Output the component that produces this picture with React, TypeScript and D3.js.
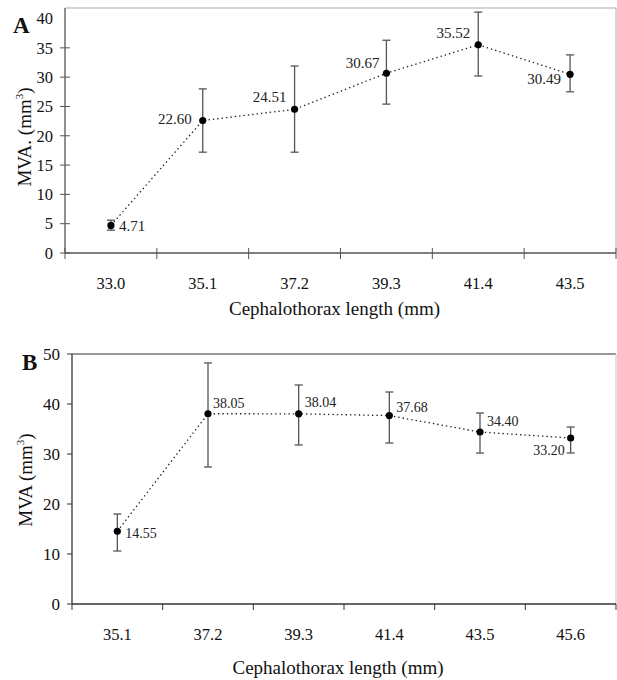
import React from 'react';
import * as d3 from 'd3';

// Panel A
const catsA = ['33.0', '35.1', '37.2', '39.3', '41.4', '43.5'];
const meanA = [4.71, 22.6, 24.51, 30.67, 35.52, 30.49];
const lowA = [3.9, 17.2, 17.2, 25.4, 30.2, 27.5];
const highA = [5.6, 28.0, 31.9, 36.3, 41.1, 33.8];
const ticksA = [0, 5, 10, 15, 20, 25, 30, 35, 40];

// Panel B
const catsB = ['35.1', '37.2', '39.3', '41.4', '43.5', '45.6'];
const meanB = [14.55, 38.05, 38.04, 37.68, 34.4, 33.2];
const lowB = [10.6, 27.4, 31.8, 32.2, 30.2, 30.2];
const highB = [18.0, 48.2, 43.8, 42.4, 38.2, 35.4];
const ticksB = [0, 10, 20, 30, 40, 50];

// label placement: [anchor, dx, dy]
const placeA: [string, number, number][] = [
  ['start', 8, 0], ['end', -11, -2], ['end', -8, -13],
  ['end', -7, -10], ['end', -8, -12], ['end', -9, 4],
];
const placeB: [string, number, number][] = [
  ['start', 8, 2], ['start', 5, -11], ['start', 6, -12],
  ['start', 7, -9], ['start', 7, -11], ['end', -6, 12],
];

const FONT = '"Liberation Serif", "Times New Roman", serif';

type PanelProps = {
  letter: string;
  cats: string[];
  mean: number[];
  low: number[];
  high: number[];
  ticks: number[];
  place: [string, number, number][];
  box: { left: number; right: number; top: number; bottom: number };
  yMax: number;
  ytitle: string;
  crossTicks: boolean;
  labelSize: number;
  frameTop: string;
  frameRight: string;
  axisColor: string;
  tickX: number;
  catY: number;
  titleY: number;
  ytitleX: number;
  ytitleY: number;
  letterPos: [number, number];
  ytickSize: number;
};

function Panel(p: PanelProps) {
  const { box } = p;
  const x = d3.scaleBand().domain(p.cats).range([box.left, box.right]);
  const y = d3.scaleLinear().domain([0, p.yMax]).range([box.bottom, box.top]);
  const cx = (i: number) => (x(p.cats[i]) as number) + x.bandwidth() / 2;
  const line = d3.line<number>().x((_, i) => cx(i)).y((d) => y(d));
  const edges = p.cats.map((c) => x(c) as number).concat([box.right]);
  const cross = p.crossTicks;

  return (
    <g fontFamily={FONT} fill="#111">
      {/* frame */}
      <line x1={box.left} x2={box.right} y1={box.top} y2={box.top} stroke={p.frameTop} strokeWidth={1.2} />
      <line x1={box.right} x2={box.right} y1={box.top} y2={box.bottom} stroke={p.frameRight} strokeWidth={1.2} />
      <line x1={box.left} x2={box.left} y1={box.top} y2={box.bottom} stroke={p.axisColor} strokeWidth={1.3} />
      <line x1={box.left} x2={box.right} y1={box.bottom} y2={box.bottom} stroke={p.axisColor} strokeWidth={1.5} />

      {/* y ticks */}
      {p.ticks.map((t) => (
        <g key={'y' + t}>
          {!(cross && t === p.ticks[p.ticks.length - 1]) && (
            <line x1={box.left - 5} x2={cross ? box.left + 5 : box.left} y1={y(t)} y2={y(t)} stroke={p.axisColor} strokeWidth={1} />
          )}
          <text x={p.tickX} y={y(t)} dy="0.35em" textAnchor="end" fontSize={p.ytickSize}>{t}</text>
        </g>
      ))}

      {/* x ticks */}
      {edges.map((e, i) => (
        <line key={'x' + i} x1={e} x2={e} y1={cross ? box.bottom - 5 : box.bottom} y2={box.bottom + 6} stroke={p.axisColor} strokeWidth={1} />
      ))}
      {p.cats.map((c, i) => (
        <text key={c} x={cx(i)} y={p.catY} dy="0.35em" textAnchor="middle" fontSize={16.5}>{c}</text>
      ))}

      {/* titles */}
      <text x={(box.left + box.right) / 2 - 6} y={p.titleY} dy="0.35em" textAnchor="middle" fontSize={19}>
        Cephalothorax length (mm)
      </text>
      <text transform={`translate(${p.ytitleX},${p.ytitleY}) rotate(-90)`} textAnchor="middle" dy="0.35em" fontSize={19}>
        {p.ytitle} (mm<tspan fontSize={11} dy={-8}>3</tspan><tspan dy={8}>)</tspan>
      </text>
      <text x={p.letterPos[0]} y={p.letterPos[1]} fontSize={23} fontWeight="bold">{p.letter}</text>

      {/* dotted connecting line */}
      <path d={line(p.mean) || ''} fill="none" stroke="#222" strokeWidth={1.3} strokeDasharray="1.4,3" />

      {/* error bars */}
      {p.mean.map((m, i) => (
        <g key={'e' + i} stroke="#555" strokeWidth={1.3}>
          <line x1={cx(i)} x2={cx(i)} y1={y(p.low[i])} y2={y(p.high[i])} />
          <line x1={cx(i) - 4} x2={cx(i) + 4} y1={y(p.low[i])} y2={y(p.low[i])} />
          <line x1={cx(i) - 4} x2={cx(i) + 4} y1={y(p.high[i])} y2={y(p.high[i])} />
        </g>
      ))}

      {/* points + labels */}
      {p.mean.map((m, i) => (
        <g key={'p' + i}>
          <circle cx={cx(i)} cy={y(m)} r={3.6} fill="#000" />
          <text
            x={cx(i) + p.place[i][1]}
            y={y(m) + p.place[i][2]}
            dy="0.35em"
            textAnchor={p.place[i][0] as any}
            fontSize={p.labelSize}
            fill="#222"
          >
            {m.toFixed(2)}
          </text>
        </g>
      ))}
    </g>
  );
}

export default function App() {
  return (
    <svg width={617} height={680} style={{ position: 'absolute', left: 0, top: 0, background: '#fff' }}>
      <rect width={617} height={680} fill="#fff" />
      <Panel
        letter="A"
        cats={catsA}
        mean={meanA}
        low={lowA}
        high={highA}
        ticks={ticksA}
        place={placeA}
        box={{ left: 65, right: 616, top: 8, bottom: 253 }}
        yMax={41.8}
        ytitle="MVA."
        crossTicks={true}
        labelSize={15}
        frameTop="#aaa"
        frameRight="#bbb"
        axisColor="#555"
        tickX={53}
        catY={283}
        titleY={308}
        ytitleX={24}
        ytitleY={137}
        letterPos={[13, 33]}
        ytickSize={16.5}
      />
      <Panel
        letter="B"
        cats={catsB}
        mean={meanB}
        low={lowB}
        high={highB}
        ticks={ticksB}
        place={placeB}
        box={{ left: 72, right: 616, top: 354, bottom: 604 }}
        yMax={50}
        ytitle="MVA"
        crossTicks={false}
        labelSize={14}
        frameTop="#333"
        frameRight="#ccc"
        axisColor="#333"
        tickX={60}
        catY={634}
        titleY={667}
        ytitleX={25}
        ytitleY={480}
        letterPos={[22, 370]}
        ytickSize={17}
      />
    </svg>
  );
}
